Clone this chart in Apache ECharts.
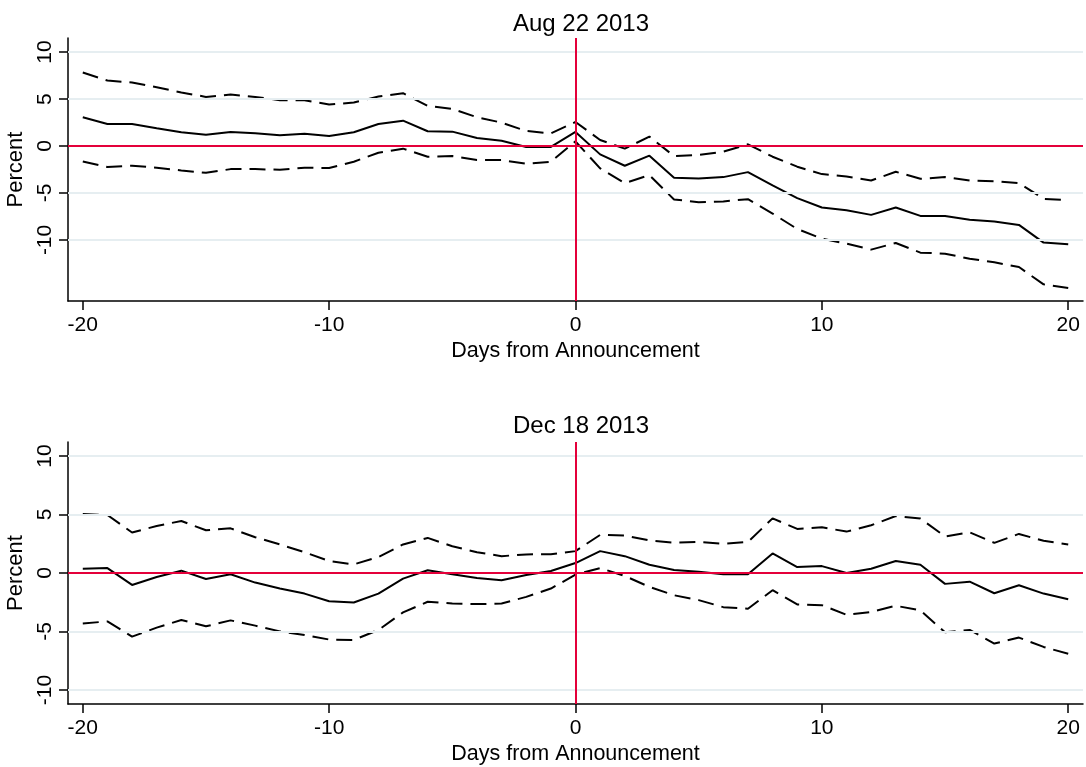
<!DOCTYPE html>
<html>
<head>
<meta charset="utf-8">
<script src="https://cdn.jsdelivr.net/npm/echarts@6/dist/echarts.min.js"></script>
<style>
  html, body { margin: 0; padding: 0; background: #fff; }
  #main { width: 1086px; height: 767px; }
</style>
</head>
<body>
<div id="main"></div>
<script>
// days from announcement
var days = [];
for (var d = -20; d <= 20; d++) days.push(d);

var xTicks = [-20, -10, 0, 10, 20];
var yTicks = [-10, -5, 0, 5, 10];
var gridVals = [-10, -5, 5, 10];

// Aug 22 2013
var augMid = [3.06, 2.35, 2.35, 1.9, 1.46, 1.2, 1.5, 1.35, 1.14, 1.3, 1.07, 1.46,
  2.35, 2.7, 1.57, 1.53, 0.85, 0.57, -0.1, -0.1, 1.5, -0.89, -2.1, -1.03, -3.38, -3.45,
  -3.31, -2.78, -4.2, -5.55, -6.55, -6.83, -7.33, -6.55, -7.44, -7.44, -7.86, -8.04, -8.4, -10.28, -10.46];
var augHi = [7.83, 6.97, 6.76, 6.26, 5.7, 5.23, 5.48, 5.23, 4.88, 4.88, 4.41, 4.63,
  5.27, 5.62, 4.27, 3.95, 3.06, 2.49, 1.6, 1.35, 2.56, 0.64, -0.28, 1.0, -1.07, -0.96,
  -0.6, 0.18, -1.14, -2.2, -2.99, -3.24, -3.67, -2.74, -3.49, -3.31, -3.67, -3.74, -3.95, -5.62, -5.77];
var augLo = [-1.64, -2.24, -2.1, -2.31, -2.6, -2.85, -2.46, -2.46, -2.53, -2.31, -2.35, -1.67,
  -0.71, -0.28, -1.14, -1.07, -1.49, -1.49, -1.89, -1.67, 0.5, -2.38, -3.95, -3.1, -5.69, -5.98,
  -5.9, -5.66, -7.19, -8.83, -9.86, -10.39, -11.03, -10.32, -11.35, -11.46, -12.0, -12.38, -12.88, -14.73, -15.12];

// Dec 18 2013
var decMid = [0.37, 0.42, -1.02, -0.34, 0.2, -0.51, -0.11, -0.82, -1.33, -1.76, -2.41, -2.52,
  -1.76, -0.48, 0.23, -0.11, -0.42, -0.62, -0.17, 0.17, 0.85, 1.87, 1.44, 0.71, 0.25, 0.11,
  -0.11, -0.11, 1.67, 0.51, 0.59, 0, 0.37, 1.02, 0.71, -0.93, -0.74, -1.73, -1.05, -1.76, -2.24];
var decHi = [5.04, 4.96, 3.46, 4.02, 4.45, 3.65, 3.82, 3.06, 2.44, 1.78, 1.02, 0.74,
  1.36, 2.44, 3.0, 2.29, 1.78, 1.44, 1.59, 1.61, 1.87, 3.26, 3.2, 2.78, 2.58, 2.66,
  2.49, 2.66, 4.67, 3.77, 3.91, 3.54, 4.08, 4.87, 4.65, 3.12, 3.48, 2.58, 3.34, 2.75, 2.44];
var decLo = [-4.31, -4.14, -5.44, -4.67, -4.02, -4.56, -4.05, -4.5, -4.99, -5.3, -5.69, -5.72,
  -4.87, -3.37, -2.46, -2.61, -2.66, -2.61, -2.04, -1.33, -0.14, 0.42, -0.25, -1.19, -1.9, -2.32,
  -2.92, -3.06, -1.47, -2.69, -2.75, -3.57, -3.34, -2.8, -3.2, -5.07, -4.87, -6.03, -5.52, -6.32, -6.91];

var FONT = 'Liberation Sans, Arial, Helvetica, sans-serif';
var RED = '#e4003a';

function pairs(vals) {
  return days.map(function (d, i) { return [d, vals[i]]; });
}

function xAxisFor(idx) {
  return {
    type: 'value', gridIndex: idx, min: -20.6, max: 20.6,
    name: 'Days from Announcement', nameLocation: 'middle', nameGap: 39,
    nameTextStyle: { fontFamily: FONT, fontSize: 21.5, color: '#000' },
    axisLine: { show: true, onZero: false, lineStyle: { color: '#000', width: 1.5 } },
    axisTick: { show: true, length: 9, customValues: xTicks, lineStyle: { color: '#000', width: 1.5 } },
    axisLabel: { customValues: xTicks, fontFamily: FONT, fontSize: 21, color: '#000', margin: 14 },
    splitLine: { show: false }
  };
}

function yAxisFor(idx, min, max) {
  return {
    type: 'value', gridIndex: idx, min: min, max: max,
    name: 'Percent', nameLocation: 'middle', nameGap: 34,
    nameTextStyle: { fontFamily: FONT, fontSize: 22, color: '#000' },
    axisLine: { show: true, onZero: false, lineStyle: { color: '#000', width: 1.5 } },
    axisTick: { show: true, length: 9, customValues: yTicks, lineStyle: { color: '#000', width: 1.5 } },
    axisLabel: { customValues: yTicks, rotate: 90, fontFamily: FONT, fontSize: 21, color: '#000', margin: 12 },
    splitLine: { show: false }
  };
}

function panelSeries(idx, mid, hi, lo) {
  var line = function (vals, dashed) {
    return {
      type: 'line', xAxisIndex: idx, yAxisIndex: idx, data: pairs(vals),
      symbol: 'none', silent: true, z: 3,
      lineStyle: { color: '#000', width: 2, type: dashed ? [16, 8] : 'solid' }
    };
  };
  return [
    {
      // light grid lines
      type: 'line', xAxisIndex: idx, yAxisIndex: idx, data: [], silent: true, z: 1,
      markLine: {
        silent: true, symbol: 'none', label: { show: false },
        lineStyle: { color: '#e6eef1', width: 2, type: 'solid' },
        data: gridVals.map(function (v) { return { yAxis: v }; })
      }
    },
    {
      // red reference lines at 0
      type: 'line', xAxisIndex: idx, yAxisIndex: idx, data: [], silent: true, z: 2,
      markLine: {
        silent: true, symbol: 'none', label: { show: false },
        lineStyle: { color: RED, width: 2, type: 'solid' },
        data: [{ yAxis: 0 }, { xAxis: 0 }]
      }
    },
    line(hi, true),
    line(mid, false),
    line(lo, true)
  ];
}

var chart = echarts.init(document.getElementById('main'), null, { renderer: 'canvas' });

var option = {
  backgroundColor: '#fff',
  animation: false,
  title: [
    { text: 'Aug 22 2013', left: 576, top: 7, textAlign: 'center',
      textStyle: { fontFamily: FONT, fontSize: 24, fontWeight: 'normal', color: '#000' } },
    { text: 'Dec 18 2013', left: 576, top: 409, textAlign: 'center',
      textStyle: { fontFamily: FONT, fontSize: 24, fontWeight: 'normal', color: '#000' } }
  ],
  grid: [
    { left: 68, right: 3, top: 38, height: 263, containLabel: false, outerBoundsMode: 'none' },
    { left: 68, right: 3, top: 442, height: 262, containLabel: false, outerBoundsMode: 'none' }
  ],
  xAxis: [xAxisFor(0), xAxisFor(1)],
  yAxis: [yAxisFor(0, -16.5, 11.5), yAxisFor(1, -11.2, 11.2)],
  series: panelSeries(0, augMid, augHi, augLo).concat(panelSeries(1, decMid, decHi, decLo))
};

chart.setOption(option);
</script>
</body>
</html>
